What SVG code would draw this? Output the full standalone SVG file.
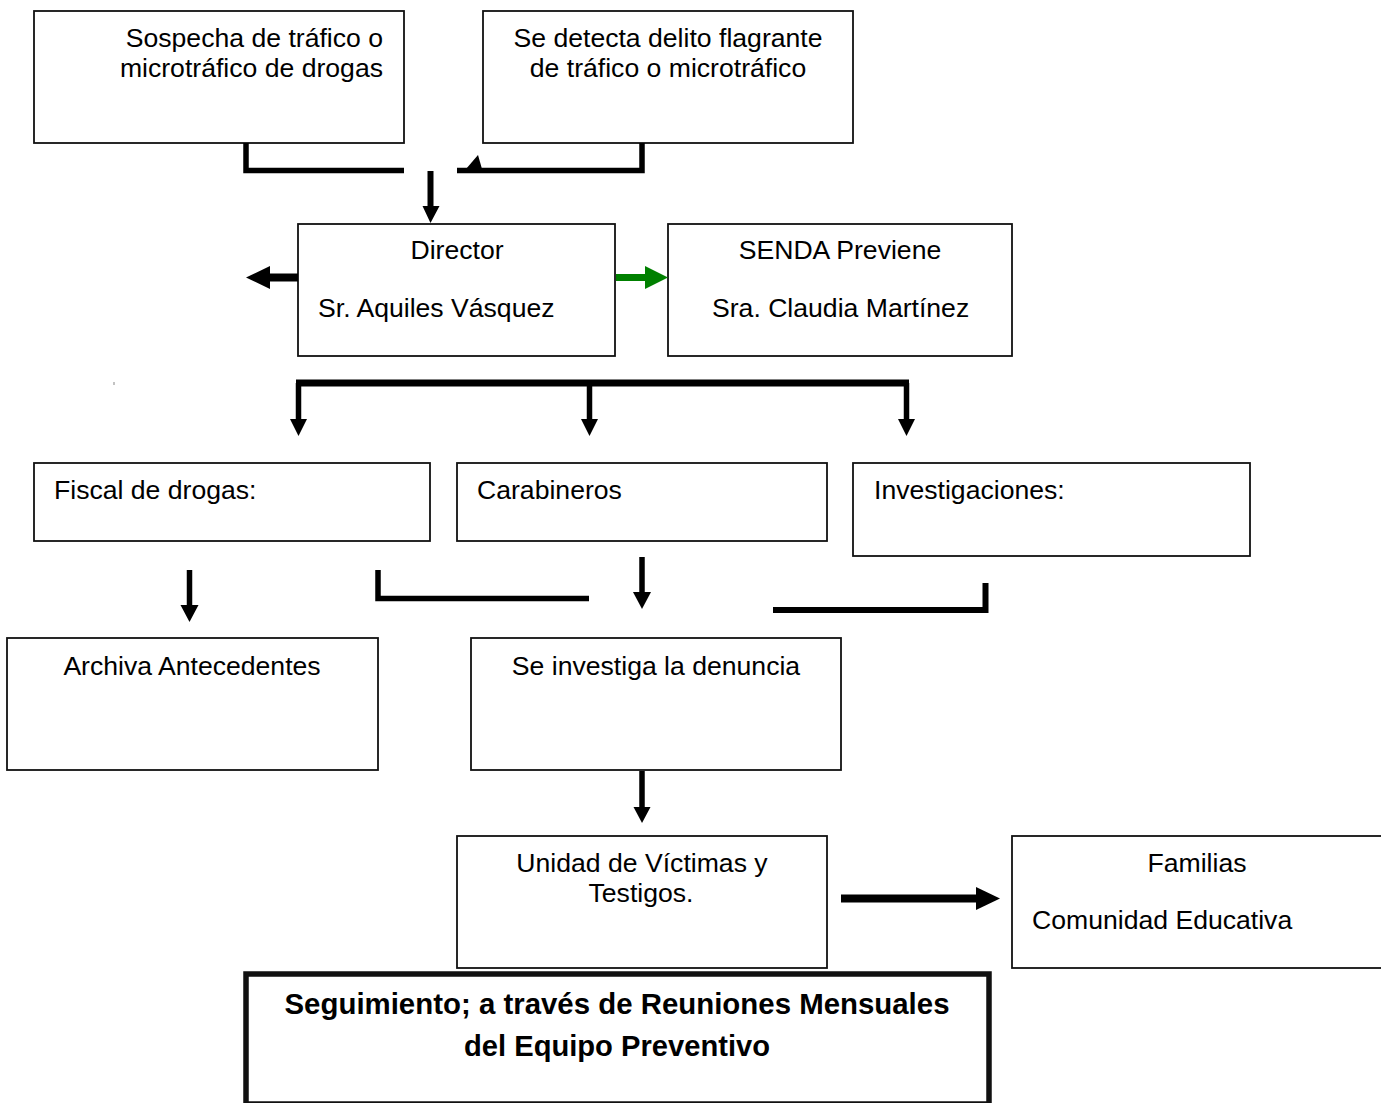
<svg xmlns="http://www.w3.org/2000/svg" width="1381" height="1103" viewBox="0 0 1381 1103">
<style>
.box{fill:#fff;stroke:#111;stroke-width:1.8}
.bold{fill:#fff;stroke:#111;stroke-width:5.5}
.t{font-family:"Liberation Sans",Arial,sans-serif;font-size:26.6px;fill:#000}
.tb{font-family:"Liberation Sans",Arial,sans-serif;font-size:29px;font-weight:bold;fill:#000}
.c{text-anchor:middle}
.e{text-anchor:end}
.ln{fill:none;stroke:#000;stroke-linecap:butt;stroke-linejoin:miter}
.hd{fill:#000;stroke:none}
.g{stroke:#008000}
.gh{fill:#008000;stroke:none}
</style>
<rect width="1381" height="1103" fill="#fff"/>

<g id="n-sospecha">
<rect class="box" x="34" y="11" width="370" height="132"/>
<text class="t e" x="383" y="47">Sospecha de tráfico o</text>
<text class="t e" x="383" y="77">microtráfico de drogas</text>
</g>

<g id="n-flagrante">
<rect class="box" x="483" y="11" width="370" height="132"/>
<text class="t c" x="668" y="47">Se detecta delito flagrante</text>
<text class="t c" x="668" y="77">de tráfico o microtráfico</text>
</g>

<g id="n-director">
<rect class="box" x="298" y="224" width="317" height="132"/>
<text class="t c" x="457" y="259">Director</text>
<text class="t" x="318" y="317">Sr. Aquiles Vásquez</text>
</g>

<g id="n-senda">
<rect class="box" x="668" y="224" width="344" height="132"/>
<text class="t c" x="840" y="259">SENDA Previene</text>
<text class="t" x="712" y="317">Sra. Claudia Martínez</text>
</g>

<g id="n-fiscal">
<rect class="box" x="34" y="463" width="396" height="78"/>
<text class="t" x="54" y="499">Fiscal de drogas:</text>
</g>

<g id="n-carabineros">
<rect class="box" x="457" y="463" width="370" height="78"/>
<text class="t" x="477" y="499">Carabineros</text>
</g>

<g id="n-investigaciones">
<rect class="box" x="853" y="463" width="397" height="93"/>
<text class="t" x="874" y="499">Investigaciones:</text>
</g>

<g id="n-archiva">
<rect class="box" x="7" y="638" width="371" height="132"/>
<text class="t c" x="192" y="675">Archiva Antecedentes</text>
</g>

<g id="n-investiga">
<rect class="box" x="471" y="638" width="370" height="132"/>
<text class="t c" x="656" y="675">Se investiga la denuncia</text>
</g>

<g id="n-unidad">
<rect class="box" x="457" y="836" width="370" height="132"/>
<text class="t c" x="642" y="872">Unidad de Víctimas y</text>
<text class="t c" x="641" y="902">Testigos.</text>
</g>

<g id="n-familias">
<rect class="box" x="1012" y="836" width="380" height="132"/>
<text class="t c" x="1197" y="872">Familias</text>
<text class="t" x="1032" y="929">Comunidad Educativa</text>
</g>

<g id="n-seguimiento">
<rect class="bold" x="246" y="974" width="743" height="130"/>
<text class="tb c" x="617" y="1014" textLength="665" lengthAdjust="spacingAndGlyphs">Seguimiento; a través de Reuniones Mensuales</text>
<text class="tb c" x="617" y="1056" textLength="306" lengthAdjust="spacingAndGlyphs">del Equipo Preventivo</text>
</g>

<g id="connectors">
<!-- top brackets -->
<polyline class="ln" stroke-width="5.5" points="246,143 246,170.5 404,170.5"/>
<polyline class="ln" stroke-width="5.5" points="642,143 642,170.5 457,170.5"/>
<polygon class="hd" points="466,169 478,155 482,169"/>
<!-- down to director -->
<line class="ln" stroke-width="6" x1="430.5" y1="171" x2="430.5" y2="207"/>
<polygon class="hd" points="422.5,206 439.5,206 430.5,223"/>
<!-- director left -->
<line class="ln" stroke-width="8" x1="298" y1="277.5" x2="269" y2="277.5"/>
<polygon class="hd" points="246,277.5 270,266 270,289"/>
<!-- director to senda (green) -->
<line class="ln g" stroke-width="7" x1="616" y1="277.5" x2="646" y2="277.5"/>
<polygon class="gh" points="645,266 645,289 668,277.5"/>
<!-- distributor -->
<line class="ln" stroke-width="7" x1="296" y1="383" x2="909" y2="383"/>
<line class="ln" stroke-width="5.5" x1="298.5" y1="383" x2="298.5" y2="420"/>
<polygon class="hd" points="290,419 307,419 298.5,436"/>
<line class="ln" stroke-width="5.5" x1="589.5" y1="383" x2="589.5" y2="420"/>
<polygon class="hd" points="581,419 598,419 589.5,436"/>
<line class="ln" stroke-width="5.5" x1="906.5" y1="383" x2="906.5" y2="420"/>
<polygon class="hd" points="898,419 915,419 906.5,436"/>
<!-- fiscal down -->
<line class="ln" stroke-width="5.5" x1="189.5" y1="570" x2="189.5" y2="606"/>
<polygon class="hd" points="180.5,605 198.5,605 189.5,622"/>
<!-- lower brackets -->
<polyline class="ln" stroke-width="5.5" points="378,570 378,598.5 589,598.5"/>
<line class="ln" stroke-width="5.5" x1="642" y1="557" x2="642" y2="593"/>
<polygon class="hd" points="633,592 651,592 642,609"/>
<polyline class="ln" stroke-width="6" points="773,610 985.5,610 985.5,583"/>
<!-- investiga down to unidad -->
<line class="ln" stroke-width="5.5" x1="642" y1="771" x2="642" y2="808"/>
<polygon class="hd" points="633.5,807 650.5,807 642,823"/>
<!-- unidad to familias -->
<line class="ln" stroke-width="8" x1="841" y1="898.5" x2="977" y2="898.5"/>
<polygon class="hd" points="976,887 976,910 1000,898.5"/>
</g>
<rect x="113.5" y="382" width="1" height="3" fill="#888"/>
</svg>
